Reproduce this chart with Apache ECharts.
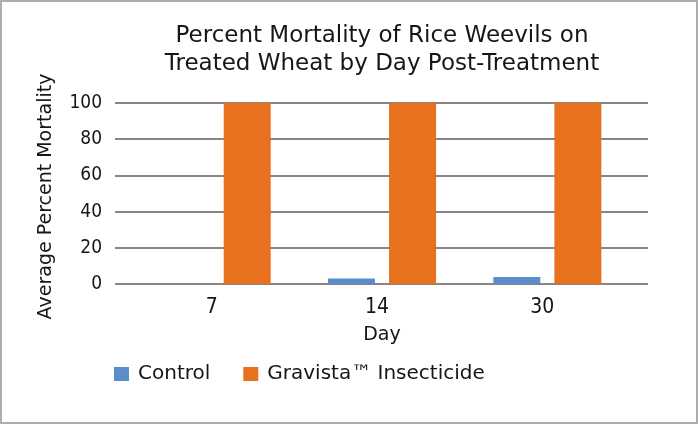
<!DOCTYPE html>
<html><head><meta charset="utf-8">
<script src="https://cdn.jsdelivr.net/npm/echarts@6/dist/echarts.min.js"></script>
<style>html,body{margin:0;padding:0;background:#fff}#c{width:699px;height:425px}</style>
</head><body><div id="c"></div>
<script>
const categories = ['7', '14', '30'];
const controlValues = [0, 3.1, 3.9];
const gravistaValues = [100, 100, 100];
const yTicks = [0, 20, 40, 60, 80, 100];
const seriesNames = ['Control', 'Gravista\u2122 Insecticide'];
const titleText = 'Percent Mortality of Rice Weevils on\nTreated Wheat by Day Post-Treatment';
const xTitle = 'Day';
const yTitle = 'Average Percent Mortality';

const FONT = '"DejaVu Sans", sans-serif';
const NUMFONT = '"DejaVu Sans Condensed", "DejaVu Sans", sans-serif';
const TXT = '#161616';
const chart = echarts.init(document.getElementById('c'), null, {renderer: 'canvas'});
chart.setOption({
  animation: false,
  textStyle: {fontFamily: FONT, color: TXT},
  graphic: [
    {type: 'rect', shape: {x: 1, y: 1, width: 696, height: 422}, style: {fill: 'none', stroke: '#b3abab', lineWidth: 2}, silent: true},
    {type: 'text', x: 382, y: 22, style: {text: titleText, fill: TXT, font: '23px ' + FONT, align: 'center', lineHeight: 28}}
  ],
  legend: {
    left: 109, top: 359, icon: 'rect', itemWidth: 15, itemHeight: 14, itemGap: 33,
    textStyle: {fontFamily: FONT, fontSize: 20, color: TXT, padding: [0, 0, 0, 4]},
    data: seriesNames
  },
  grid: [
    {left: 115, right: 51, top: 103, bottom: 141},
    {left: 134, right: 69, top: 103, bottom: 141}
  ],
  xAxis: [
    {gridIndex: 0, type: 'category', data: categories, show: false},
    {gridIndex: 1, type: 'category', data: categories,
     axisLine: {show: false}, axisTick: {show: false},
     axisLabel: {fontFamily: NUMFONT, fontSize: 21, color: TXT, margin: 13, padding: [0, 10, 0, 0]},
     name: xTitle, nameLocation: 'middle', nameGap: 42,
     nameTextStyle: {fontFamily: FONT, fontSize: 19, color: TXT}}
  ],
  yAxis: [
    {gridIndex: 0, type: 'value', min: yTicks[0], max: yTicks[yTicks.length - 1], interval: 20,
     axisLine: {show: false}, axisTick: {show: false},
     axisLabel: {fontFamily: NUMFONT, fontSize: 19, color: TXT, margin: 13},
     splitLine: {lineStyle: {color: '#8b8480', width: 2}},
     name: yTitle, nameLocation: 'middle', nameGap: 59,
     nameTextStyle: {fontFamily: FONT, fontSize: 19, color: TXT, padding: [0, 6, 0, 0]}},
    {gridIndex: 1, type: 'value', min: yTicks[0], max: yTicks[yTicks.length - 1], interval: 20, show: false, splitLine: {show: false}}
  ],
  series: [
    {name: seriesNames[0], type: 'bar', xAxisIndex: 1, yAxisIndex: 1, data: controlValues,
     barWidth: 47, barGap: '30%', itemStyle: {color: '#5b8dca'}},
    {name: seriesNames[1], type: 'bar', xAxisIndex: 1, yAxisIndex: 1, data: gravistaValues,
     barWidth: 47, barGap: '30%', itemStyle: {color: '#e8711f'}}
  ]
});
</script></body></html>
